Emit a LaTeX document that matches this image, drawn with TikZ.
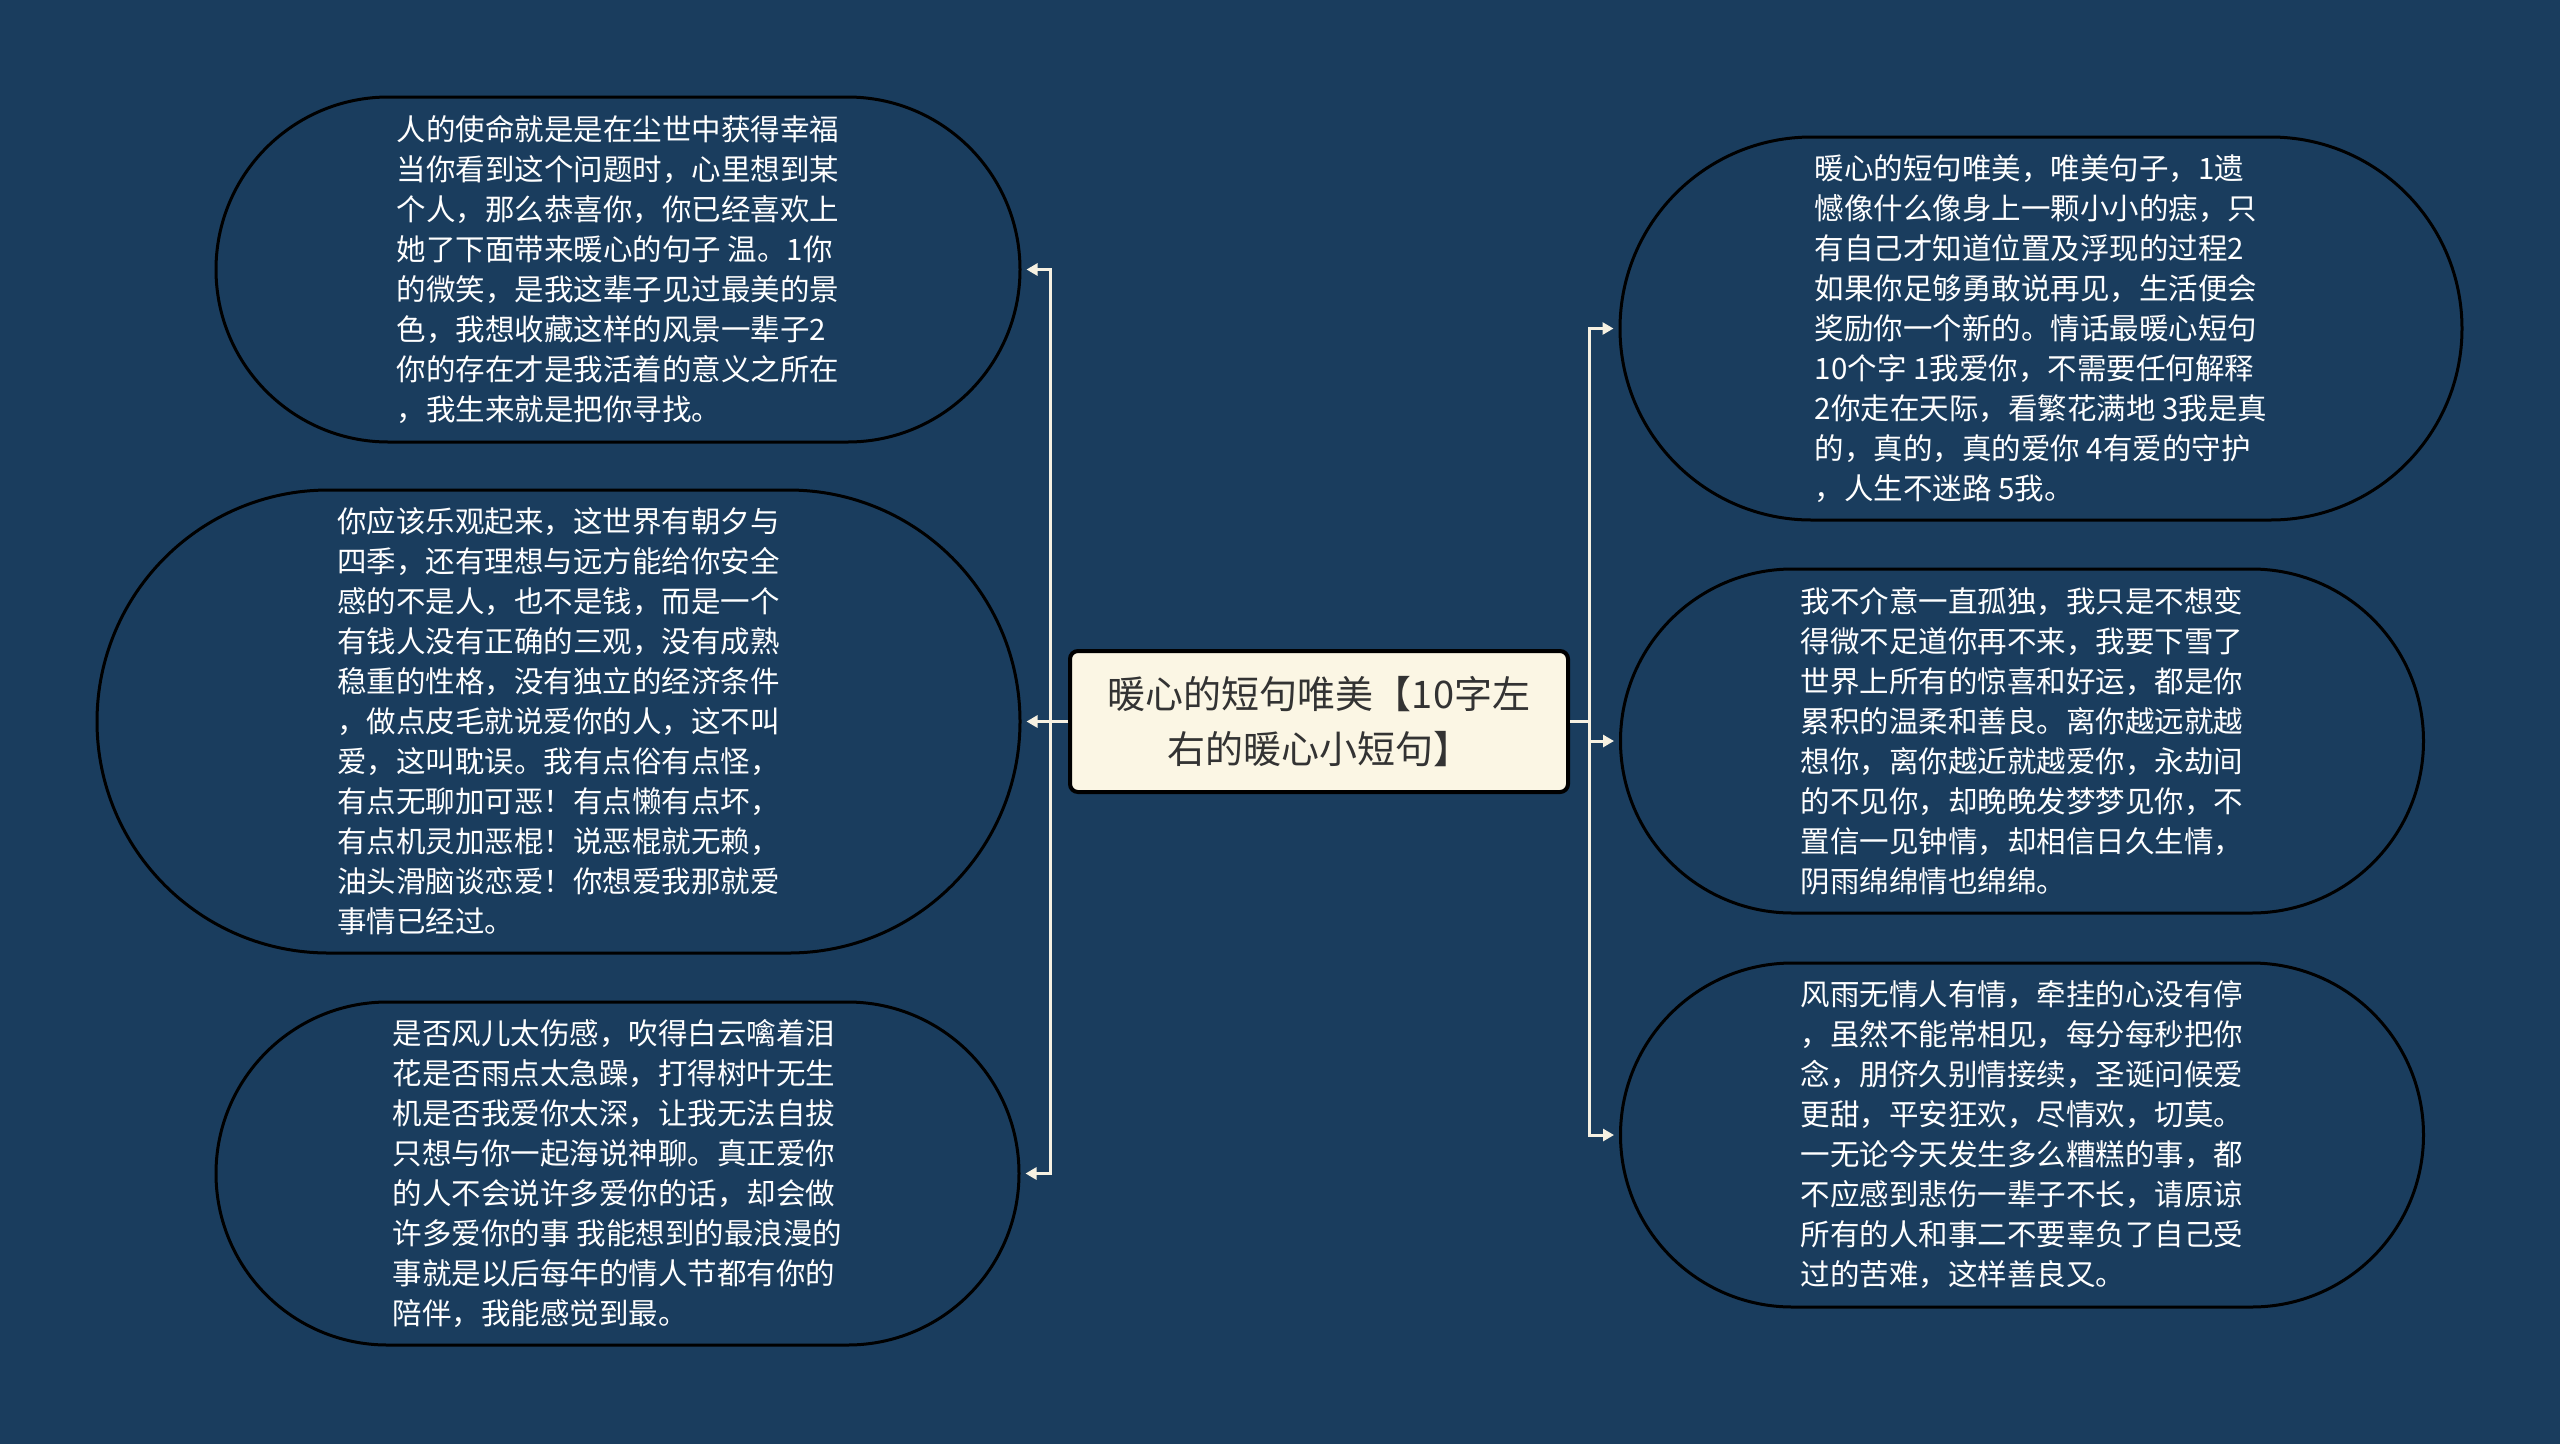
\documentclass[tikz,border=0pt]{standalone}
\usepackage{fontspec}
\newfontfamily\cjk{Noto Sans CJK SC}
\usetikzlibrary{arrows.meta,shapes.misc}
\definecolor{nacht}{HTML}{1A3D5E}
\definecolor{creme}{HTML}{FBF6E4}
\definecolor{hell}{HTML}{F6F1E2}
\definecolor{dunkel}{HTML}{333333}
\tikzset{
  blatt/.style={shape=rounded rectangle,draw=black,line width=3pt,fill=nacht,
    text=white,align=left,inner sep=0pt,font=\cjk\fontsize{29.5}{40}\selectfont},
  wurzel/.style={shape=rectangle,rounded corners=8pt,draw=black,line width=4pt,fill=creme,
    text=dunkel,align=center,inner sep=0pt,minimum width=498pt,minimum height=141pt,
    font=\cjk\fontsize{38}{55}\selectfont},
  pfeil/.style={-{Triangle[length=11pt,width=12pt]},hell,line width=3pt,shorten >=5pt},
}
\begin{document}
\begin{tikzpicture}[x=1pt,y=-1pt]
  \fill[nacht] (0,0) rectangle (2560,1444);
  \useasboundingbox (0,0) rectangle (2560,1444);
  % mitte
  \node[wurzel] (mitte) at (1319,721.5) {暖心的短句唯美【10字左\\右的暖心小短句】};
  % links
  \node[blatt,minimum width=804pt,minimum height=345pt] (l1) at (618,269.5) {%
    人的使命就是是在尘世中获得幸福\\当你看到这个问题时，心里想到某\\个人，那么恭喜你，你已经喜欢上\\她了下面带来暖心的句子 温。1你\\的微笑，是我这辈子见过最美的景\\色，我想收藏这样的风景一辈子2\\你的存在才是我活着的意义之所在\\，我生来就是把你寻找。};
  \node[blatt,minimum width=923pt,minimum height=463pt] (l2) at (558.5,721.5) {%
    你应该乐观起来，这世界有朝夕与\\四季，还有理想与远方能给你安全\\感的不是人，也不是钱，而是一个\\有钱人没有正确的三观，没有成熟\\稳重的性格，没有独立的经济条件\\，做点皮毛就说爱你的人，这不叫\\爱，这叫耽误。我有点俗有点怪，\\有点无聊加可恶！有点懒有点坏，\\有点机灵加恶棍！说恶棍就无赖，\\油头滑脑谈恋爱！你想爱我那就爱\\事情已经过。};
  \node[blatt,minimum width=803pt,minimum height=343pt] (l3) at (617.5,1173.5) {%
    是否风儿太伤感，吹得白云噙着泪\\花是否雨点太急躁，打得树叶无生\\机是否我爱你太深，让我无法自拔\\只想与你一起海说神聊。真正爱你\\的人不会说许多爱你的话，却会做\\许多爱你的事 我能想到的最浪漫的\\事就是以后每年的情人节都有你的\\陪伴，我能感觉到最。};
  % rechts
  \node[blatt,minimum width=842pt,minimum height=383pt] (r1) at (2041,328.5) {%
    暖心的短句唯美，唯美句子，1遗\\憾像什么像身上一颗小小的痣，只\\有自己才知道位置及浮现的过程2\\如果你足够勇敢说再见，生活便会\\奖励你一个新的。情话最暖心短句\\10个字 1我爱你，不需要任何解释\\2你走在天际，看繁花满地 3我是真\\的，真的，真的爱你 4有爱的守护\\，人生不迷路 5我。};
  \node[blatt,minimum width=803pt,minimum height=344pt] (r2) at (2022,741) {%
    我不介意一直孤独，我只是不想变\\得微不足道你再不来，我要下雪了\\世界上所有的惊喜和好运，都是你\\累积的温柔和善良。离你越远就越\\想你，离你越近就越爱你，永劫间\\的不见你，却晚晚发梦梦见你，不\\置信一见钟情，却相信日久生情，\\阴雨绵绵情也绵绵。};
  \node[blatt,minimum width=803pt,minimum height=344pt] (r3) at (2022,1135) {%
    风雨无情人有情，牵挂的心没有停\\，虽然不能常相见，每分每秒把你\\念，朋侪久别情接续，圣诞问候爱\\更甜，平安狂欢，尽情欢，切莫。\\一无论今天发生多么糟糕的事，都\\不应感到悲伤一辈子不长，请原谅\\所有的人和事二不要辜负了自己受\\过的苦难，这样善良又。};
  % pfeile
  \foreach \z in {l1,l2,l3}
    \draw[pfeil] (mitte.west) -- ++(-18,0) |- (\z.east);
  \foreach \z in {r1,r2,r3}
    \draw[pfeil] (mitte.east) -- ++(19,0) |- (\z.west);
\end{tikzpicture}
\end{document}
